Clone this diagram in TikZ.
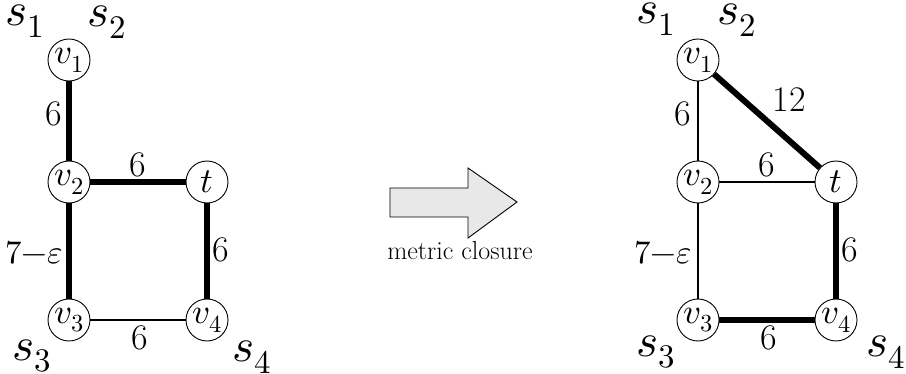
\documentclass[tikz,border=0pt]{standalone}
\usepackage{unicode-math}
\setmathfont{Latin Modern Math}
\begin{document}
\begin{tikzpicture}[x=1pt,y=-1pt,
  vtx/.style={circle,draw,line width=0.9pt,fill=white,minimum size=42pt,inner sep=0pt,
              font=\fontsize{35}{38}\selectfont},
  thin/.style={line width=1.6pt},
  heavy/.style={line width=6pt},
  wlabel/.style={inner sep=0pt,font=\fontsize{36}{40}\selectfont},
  wide/.style={inner sep=0pt,font=\fontsize{33}{36}\selectfont},
  term/.style={inner sep=0pt,anchor=base west,font=\fontsize{47}{50}\selectfont}]
\useasboundingbox (0,0) rectangle (906,374);

% ---- left graph ----
\node[vtx] (a1) at (69,60)  {$v_1$};
\node[vtx] (a2) at (69,182) {$v_2$};
\node[vtx] (at) at (207,182) {$t$};
\node[vtx] (a3) at (69,320) {$v_3$};
\node[vtx] (a4) at (207,320) {$v_4$};
\draw[heavy] (a1) -- (a2);
\draw[heavy] (a2) -- (at);
\draw[heavy] (a2) -- (a3);
\draw[heavy] (at) -- (a4);
\draw[thin]  (a3) -- (a4);

\node[wlabel] (la12) at (54,114)  {6};
\node[wlabel] (la2t) at (138,165) {6};
\node[wide]   (la23) at (34,253)  {$7{-}\varepsilon$};
\node[wlabel] (lat4) at (221,250) {6};
\node[wlabel] (la34) at (140,338) {6};

\node[term] (as1) at (5,26)    {$s_1$};
\node[term] (as2) at (87,27)   {$s_2$};
\node[term] (as3) at (12,360)  {$s_3$};
\node[term] (as4) at (232,362) {$s_4$};

% ---- arrow ----
\coordinate (p1) at (390,188);
\coordinate (p2) at (468,188);
\coordinate (p3) at (468,168);
\coordinate (p4) at (517,202);
\coordinate (p5) at (468,238);
\coordinate (p6) at (468,217);
\coordinate (p7) at (390,217);
\draw[line width=0.9pt,fill=black!9,line join=miter]
  (p1) -- (p2) -- (p3) -- (p4) -- (p5) -- (p6) -- (p7) -- cycle;
\node[inner sep=0pt,anchor=base,font=\fontsize{26}{29}\selectfont] (mc) at (460,260) {metric closure};

% ---- right graph ----
\node[vtx] (b1) at (698,60)  {$v_1$};
\node[vtx] (b2) at (698,182) {$v_2$};
\node[vtx] (bt) at (836,182) {$t$};
\node[vtx] (b3) at (698,320) {$v_3$};
\node[vtx] (b4) at (836,320) {$v_4$};
\draw[thin]  (b1) -- (b2);
\draw[heavy] (b1) -- (bt);
\draw[thin]  (b2) -- (bt);
\draw[thin]  (b2) -- (b3);
\draw[heavy] (bt) -- (b4);
\draw[heavy] (b3) -- (b4);

\node[wlabel] (lb12) at (683,114) {6};
\node[wlabel] (lb1t) at (789,100) {12};
\node[wlabel] (lb2t) at (767,165) {6};
\node[wide]   (lb23) at (663,253) {$7{-}\varepsilon$};
\node[wlabel] (lbt4) at (850,250) {6};
\node[wlabel] (lb34) at (769,338) {6};

\node[term] (bs1) at (636,24)  {$s_1$};
\node[term] (bs2) at (717,25)  {$s_2$};
\node[term] (bs3) at (636,356) {$s_3$};
\node[term] (bs4) at (866,357) {$s_4$};
\end{tikzpicture}
\end{document}
